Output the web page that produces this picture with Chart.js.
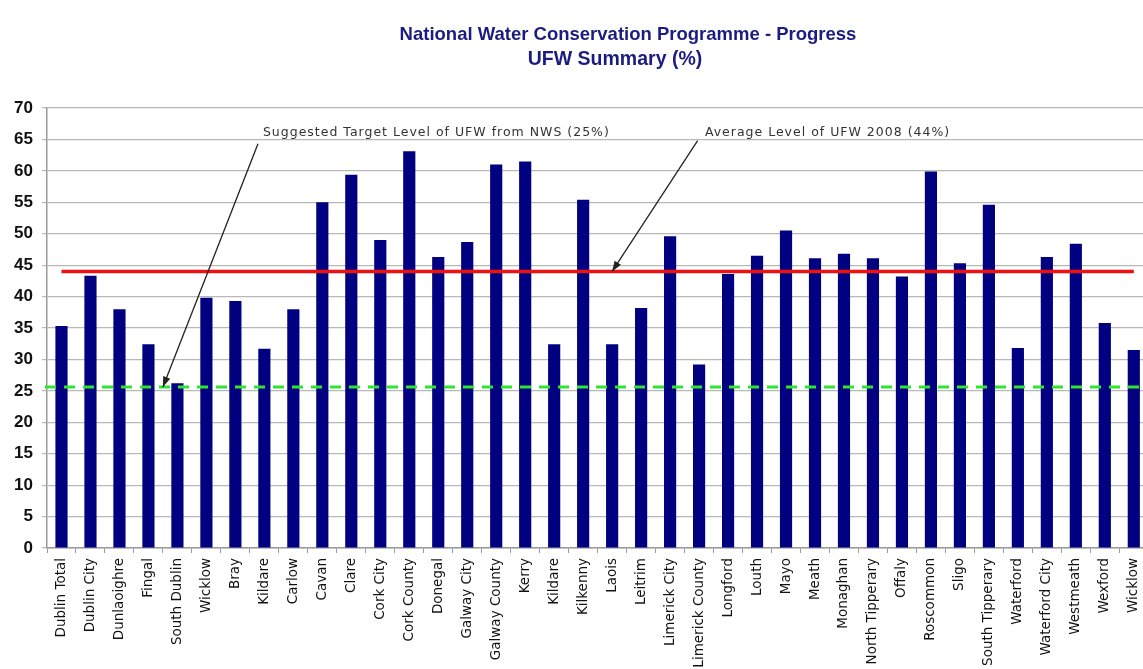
<!DOCTYPE html>
<html>
<head>
<meta charset="utf-8">
<script src="https://cdn.jsdelivr.net/npm/chart.js@4"></script>
<style>
  html, body { margin: 0; padding: 0; background: #fff; overflow: hidden; }
  canvas { display: block; }
</style>
</head>
<body>
<canvas id="chart" width="1155" height="669"></canvas>
<script>
const regions = [
  "Dublin Total", "Dublin City", "Dunlaoighre", "Fingal", "South Dublin", "Wicklow",
  "Bray", "Kildare", "Carlow", "Cavan", "Clare", "Cork City", "Cork County",
  "Donegal", "Galway City", "Galway County", "Kerry", "Kildare", "Kilkenny",
  "Laois", "Leitrim", "Limerick City", "Limerick County", "Longford", "Louth",
  "Mayo", "Meath", "Monaghan", "North Tipperary", "Offaly", "Roscommon", "Sligo",
  "South Tipperary", "Waterford", "Waterford City", "Westmeath", "Wexford", "Wicklow"
];

const ufw = [
  35.3, 43.3, 38.0, 32.4, 26.2, 39.8,
  39.3, 31.7, 38.0, 55.0, 59.4, 49.0, 63.1,
  46.3, 48.7, 61.0, 61.5, 32.4, 55.4,
  32.4, 38.2, 49.6, 29.2, 43.6, 46.5,
  50.5, 46.1, 46.8, 46.1, 43.2, 59.9, 45.3,
  54.6, 31.8, 46.3, 48.4, 35.8, 31.5
];

const averageLevel = 44;
const targetLevel = 25.6;

const titleLines = ["National Water Conservation Programme - Progress", "UFW Summary (%)"];

// annotation text + arrow, positioned in category index / value terms
const notes = [
  { text: "Suggested Target Level of UFW from NWS (25%)", textAt: [6.95, 66.1], from: [6.78, 64.3], to: [3.5, targetLevel] },
  { text: "Average Level of UFW 2008 (44%)", textAt: [22.2, 66.1], from: [21.95, 64.8], to: [19.0, averageLevel] }
];

// title sits a little right of centre in the original
const titleDraw = {
  id: "titleDraw",
  afterDraw(chart) {
    const ctx = chart.ctx;
    ctx.save();
    ctx.fillStyle = "#1c1c80";
    ctx.textAlign = "center";
    ctx.textBaseline = "middle";
    ctx.font = "bold 18.5px 'Liberation Sans'";
    ctx.fillText(titleLines[0], 628, 35);
    ctx.font = "bold 19.5px 'Liberation Sans'";
    ctx.fillText(titleLines[1], 615, 60);
    ctx.restore();
  },
};

const targetLine = {
  id: "targetLine",
  afterDatasetsDraw(chart) {
    const { ctx, chartArea, scales } = chart;
    const y = scales.y.getPixelForValue(targetLevel);
    ctx.save();
    ctx.strokeStyle = "#2ee62e";
    ctx.lineWidth = 3;
    ctx.setLineDash([11, 8]);
    ctx.beginPath();
    ctx.moveTo(chartArea.left - 2, y);
    ctx.lineTo(chartArea.right, y);
    ctx.stroke();
    ctx.restore();
  },
};

const arrows = {
  id: "arrows",
  afterDraw(chart) {
    const { ctx, scales } = chart;
    const px = (p) => [scales.x.getPixelForValue(p[0]), scales.y.getPixelForValue(p[1])];
    ctx.save();
    notes.forEach((n) => {
      const t = px(n.textAt);
      ctx.fillStyle = "#333";
      ctx.font = "12.5px 'DejaVu Sans'";
      ctx.letterSpacing = "1px";
      ctx.textBaseline = "middle";
      ctx.textAlign = "left";
      ctx.fillText(n.text, t[0], t[1]);
      ctx.letterSpacing = "0px";

      const a = px(n.from);
      const b = px(n.to);
      ctx.strokeStyle = "#222";
      ctx.lineWidth = 1.3;
      ctx.beginPath();
      ctx.moveTo(a[0], a[1]);
      ctx.lineTo(b[0], b[1]);
      ctx.stroke();

      const ang = Math.atan2(b[1] - a[1], b[0] - a[0]);
      const len = 11;
      ctx.fillStyle = "#222";
      ctx.beginPath();
      ctx.moveTo(b[0], b[1]);
      ctx.lineTo(b[0] - len * Math.cos(ang - 0.35), b[1] - len * Math.sin(ang - 0.35));
      ctx.lineTo(b[0] - len * Math.cos(ang + 0.35), b[1] - len * Math.sin(ang + 0.35));
      ctx.closePath();
      ctx.fill();
    });
    ctx.restore();
  },
};

new Chart(document.getElementById("chart"), {
  type: "bar",
  data: {
    labels: regions,
    datasets: [
      {
        type: "line",
        label: "Average",
        data: regions.map(() => averageLevel),
        borderColor: "#ee1111",
        borderWidth: 3.5,
        pointRadius: 0,
        order: 1,
      },
      {
        label: "UFW",
        data: ufw,
        backgroundColor: "#000080",
        barPercentage: 0.42,
        categoryPercentage: 1,
        order: 2,
      },
    ],
  },
  options: {
    responsive: false,
    animation: false,
    layout: { padding: { left: 0, right: 0, top: 108, bottom: 0 } },
    scales: {
      x: {
        grid: {
          display: true,
          drawOnChartArea: false,
          tickLength: 5,
          color: "#999",
          offset: true,
        },
        border: { color: "#999", width: 1.5 },
        ticks: {
          minRotation: 90,
          maxRotation: 90,
          autoSkip: false,
          color: "#111",
          font: { family: "DejaVu Sans", size: 13.5 },
          padding: 5,
        },
        afterFit(scale) { scale.height = 121; },
      },
      y: {
        min: 0,
        max: 70,
        ticks: {
          stepSize: 5,
          color: "#111",
          font: { family: "Liberation Sans", size: 17, weight: "bold" },
          padding: 9,
        },
        grid: { color: "#b8b8b8", lineWidth: 1.2, tickLength: 5 },
        border: { color: "#999", width: 1.5 },
        afterFit(scale) { scale.width = 47; },
      },
    },
    plugins: {
      legend: { display: false },
      tooltip: { enabled: false },
      title: { display: false },
    },
  },
  plugins: [targetLine, arrows, titleDraw],
});
</script>
</body>
</html>
